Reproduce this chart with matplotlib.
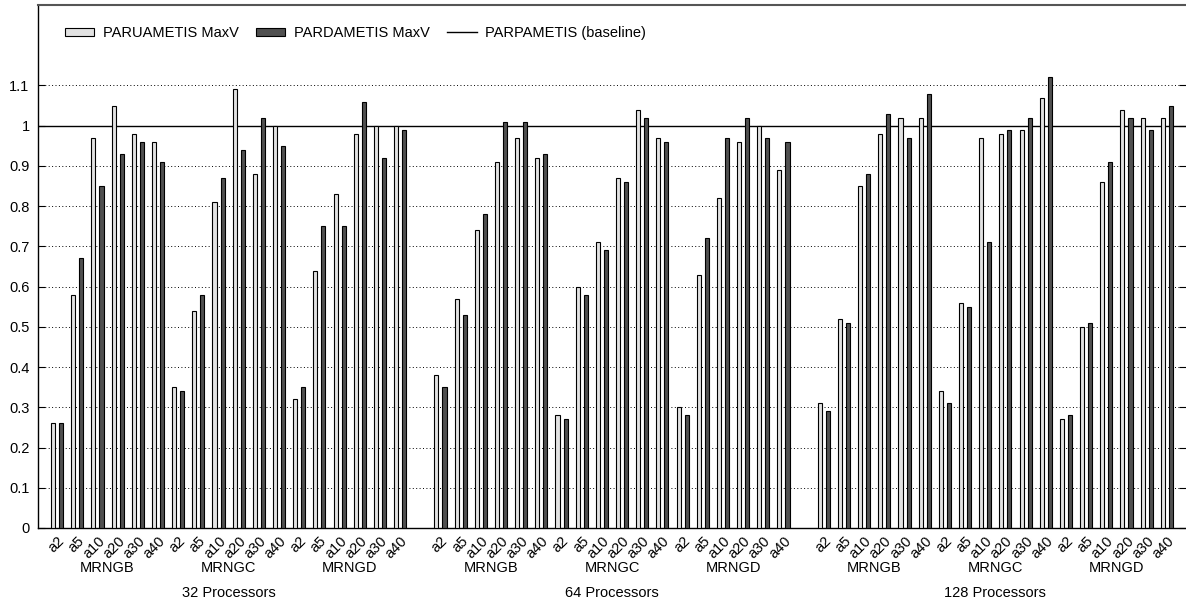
import numpy as np
import matplotlib
matplotlib.use("Agg")
import matplotlib.pyplot as plt
from matplotlib.transforms import blended_transform_factory

plt.rcParams['font.family'] = ['Liberation Sans', 'DejaVu Sans']

procs = ['32 Processors', '64 Processors', '128 Processors']
meshes = ['MRNGB', 'MRNGC', 'MRNGD']
alphas = ['a2', 'a5', 'a10', 'a20', 'a30', 'a40']

# values per processor count: MRNGB a2..a40, MRNGC a2..a40, MRNGD a2..a40
paru_32 = [0.26, 0.58, 0.97, 1.05, 0.98, 0.96,
           0.35, 0.54, 0.81, 1.09, 0.88, 1.00,
           0.32, 0.64, 0.83, 0.98, 1.00, 1.00]
pard_32 = [0.26, 0.67, 0.85, 0.93, 0.96, 0.91,
           0.34, 0.58, 0.87, 0.94, 1.02, 0.95,
           0.35, 0.75, 0.75, 1.06, 0.92, 0.99]
paru_64 = [0.38, 0.57, 0.74, 0.91, 0.97, 0.92,
           0.28, 0.60, 0.71, 0.87, 1.04, 0.97,
           0.30, 0.63, 0.82, 0.96, 1.00, 0.89]
pard_64 = [0.35, 0.53, 0.78, 1.01, 1.01, 0.93,
           0.27, 0.58, 0.69, 0.86, 1.02, 0.96,
           0.28, 0.72, 0.97, 1.02, 0.97, 0.96]
paru_128 = [0.31, 0.52, 0.85, 0.98, 1.02, 1.02,
            0.34, 0.56, 0.97, 0.98, 0.99, 1.07,
            0.27, 0.50, 0.86, 1.04, 1.02, 1.02]
pard_128 = [0.29, 0.51, 0.88, 1.03, 0.97, 1.08,
            0.31, 0.55, 0.71, 0.99, 1.02, 1.12,
            0.28, 0.51, 0.91, 1.02, 0.99, 1.05]
baseline = 1.0

paru = [paru_32, paru_64, paru_128]
pard = [pard_32, pard_64, pard_128]

fig = plt.figure(figsize=(11.86, 6.03), dpi=100)
ax = fig.add_axes([0.032, 0.1244, 0.968, 0.8673])

n = len(meshes) * len(alphas)
w = 0.2
xs_all, labels_all = [], []
for i in range(len(procs)):
    x = i * (n + 1) + np.arange(n)
    b1 = ax.bar(x - w, paru[i], width=w, color='#e2e2e2', edgecolor='black',
                linewidth=0.8, zorder=3)
    b2 = ax.bar(x + w, pard[i], width=w, color='#505050', edgecolor='black',
                linewidth=0.8, zorder=3)
    xs_all.extend(x)
    labels_all.extend(alphas * len(meshes))

bl = ax.axhline(baseline, color='black', linewidth=1.0, zorder=2)

ax.set_xlim(-0.95, 3 * n + 2 - 0.05)
ax.set_ylim(0, 1.3)
ax.set_yticks(np.arange(0, 1.11, 0.1))
ax.set_yticklabels(['%g' % round(v, 1) for v in np.arange(0, 1.11, 0.1)], fontsize=10.5)
ax.tick_params(axis='y', direction='in', length=5, width=0.8, right=True, pad=6)
for v in np.arange(0.1, 1.11, 0.1):
    ax.axhline(v, color='black', linewidth=0.7, linestyle=(0, (1, 2.5)), zorder=1)

ax.set_xticks(xs_all)
ax.set_xticklabels(labels_all, rotation=45, ha='right', rotation_mode='anchor',
                   fontsize=10.5)
ax.tick_params(axis='x', length=0, pad=4)

trans = blended_transform_factory(ax.transData, ax.transAxes)
for i, p in enumerate(procs):
    for j, m in enumerate(meshes):
        c = i * (n + 1) + j * len(alphas) + (len(alphas) - 1) / 2
        ax.text(c, -0.077, m, transform=trans, ha='center', va='center', fontsize=10.5)
    ax.text(i * (n + 1) + (n - 1) / 2, -0.124, p, transform=trans,
            ha='center', va='center', fontsize=10.5)

ax.spines['top'].set_color('#555555')
ax.spines['top'].set_linewidth(1.5)
ax.spines['right'].set_visible(False)
ax.spines['left'].set_linewidth(1.0)
ax.spines['bottom'].set_linewidth(1.0)

ax.legend([b1, b2, bl], ['PARUAMETIS MaxV', 'PARDAMETIS MaxV', 'PARPAMETIS (baseline)'],
          loc='upper left', bbox_to_anchor=(0.012, 0.985), ncol=3, frameon=False,
          fontsize=10.5, handlelength=2.0, handleheight=0.5, handletextpad=0.6,
          columnspacing=1.2)

fig.savefig('out.png', dpi=100)
